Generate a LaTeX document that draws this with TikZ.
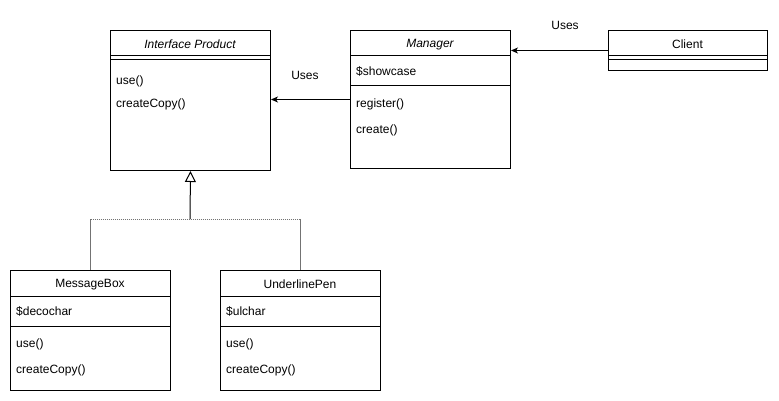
\documentclass[tikz,border=0pt]{standalone}
\usepackage{fontspec}
\setmainfont{Liberation Sans}
\usetikzlibrary{arrows.meta}
\begin{document}
\begin{tikzpicture}[x=1pt,y=-1pt,
  box/.style={draw, line width=1pt, minimum width=160pt, inner sep=0pt, anchor=north west},
  lbl/.style={font=\fontsize{12}{14}\selectfont, inner sep=0pt, yshift=-1.5pt},
  itm/.style={lbl, anchor=west},
  usesarrow/.style={line width=1pt, -{Stealth[length=7pt,width=6pt,inset=2pt]}},
  inh/.style={line width=1pt, -{Triangle[open,length=11pt,width=11pt]}},
  gline/.style={line width=1pt, draw=black!55}
]
\useasboundingbox (0,0) rectangle (779,401);

% Interface Product
\node[box, minimum height=140pt] (prod) at (110,30) {};
\node[lbl, font=\fontsize{12}{14}\selectfont\itshape] (prodt) at (190,43) {Interface Product};
\draw[line width=1pt] (prod.west |- 0,56) -- (prod.east |- 0,56);
\draw[line width=1pt] (prod.west |- 0,60) -- (prod.east |- 0,60);
\node[itm] (prodm1) at (116,80) {use()};
\node[itm] (prodm2) at (116,103) {createCopy()};

% Manager
\node[box, minimum height=138pt] (mgr) at (350,30) {};
\node[lbl, font=\fontsize{12}{14}\selectfont\itshape] (mgrt) at (430,43) {Manager};
\draw[line width=1pt] (mgr.west |- 0,56) -- (mgr.east |- 0,56);
\node[itm] (mgra) at (356,70) {\$showcase};
\draw[line width=1pt] (mgr.west |- 0,86) -- (mgr.east |- 0,86);
\node[itm] (mgrm1) at (356,103) {register()};
\node[itm] (mgrm2) at (356,129) {create()};

% Client
\node[box, minimum width=159pt, minimum height=40pt] (client) at (608,30) {};
\node[lbl] (clientt) at (687.5,43) {Client};
\draw[line width=1pt] (client.west |- 0,56) -- (client.east |- 0,56);
\draw[line width=1pt] (client.west |- 0,60) -- (client.east |- 0,60);

% MessageBox
\node[box, minimum height=120pt] (mb) at (10,270) {};
\node[lbl] (mbt) at (90,283) {MessageBox};
\draw[line width=1pt] (mb.west |- 0,296) -- (mb.east |- 0,296);
\node[itm] (mba) at (16,310) {\$decochar};
\draw[line width=1pt] (mb.west |- 0,326) -- (mb.east |- 0,326);
\node[itm] (mbm1) at (16,343) {use()};
\node[itm] (mbm2) at (16,369) {createCopy()};

% UnderlinePen
\node[box, minimum height=120pt] (up) at (220,270) {};
\node[lbl] (upt) at (300,283) {UnderlinePen};
\draw[line width=1pt] (up.west |- 0,296) -- (up.east |- 0,296);
\node[itm] (upa) at (226,310) {\$ulchar};
\draw[line width=1pt] (up.west |- 0,326) -- (up.east |- 0,326);
\node[itm] (upm1) at (226,343) {use()};
\node[itm] (upm2) at (226,369) {createCopy()};

% Uses connectors
\draw[usesarrow] (client.west) -- (mgr.east |- client.west);
\node[lbl] (uses1) at (565,24) {Uses};
\draw[usesarrow] (mgr.west) -- (prod.east |- mgr.west);
\node[lbl] (uses2) at (305,74) {Uses};

% Inheritance
\coordinate (j) at (190,219);
\draw[inh] (j) -- (prod.south);
\draw[gline, densely dotted] (mb.north |- j) -- (up.north |- j);
\draw[gline] (mb.north |- j) -- (mb.north);
\draw[gline] (up.north |- j) -- (up.north);
\end{tikzpicture}
\end{document}
